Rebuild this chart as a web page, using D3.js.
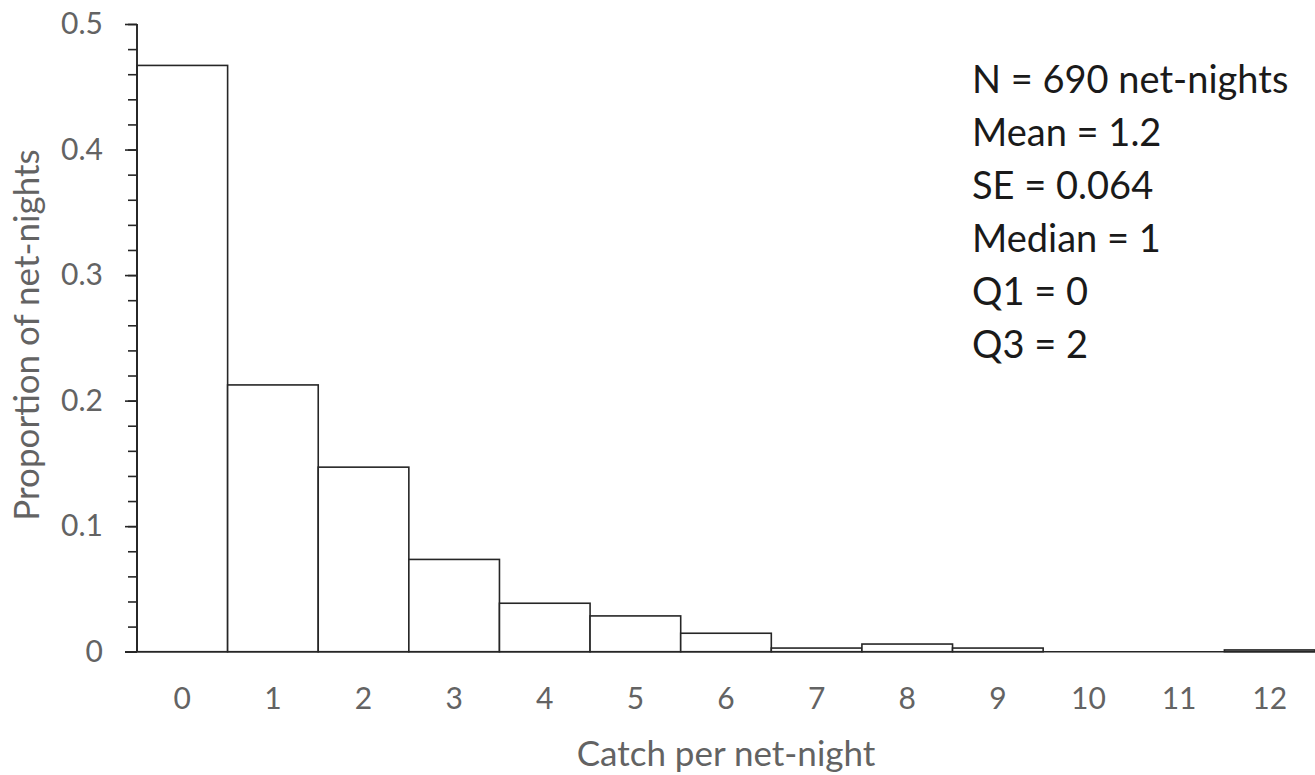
<!DOCTYPE html>
<html>
<head>
<meta charset="utf-8">
<script src="https://cdn.jsdelivr.net/npm/d3@7"></script>
<style>
  html, body { margin: 0; padding: 0; background: #fff; }
  svg { display: block; font-family: Lato, "Liberation Sans", sans-serif; }
</style>
</head>
<body>
<div id="chart"></div>
<script>
// catch per net-night (categories) and proportion of net-nights
const catches = ["0", "1", "2", "3", "4", "5", "6", "7", "8", "9", "10", "11", "12"];
const proportions = [0.467, 0.2125, 0.147, 0.0735, 0.0386, 0.0285, 0.0147, 0.0029, 0.0061, 0.0029, 0, 0, 0.0014];
const yTicks = [0, 0.1, 0.2, 0.3, 0.4, 0.5];
const statLines = ["N = 690 net-nights", "Mean = 1.2", "SE = 0.064", "Median = 1", "Q1 = 0", "Q3 = 2"];

const W = 1315, H = 775;
const margin = { top: 24, right: 0, bottom: 123.3, left: 137 };
const width = W - margin.left - margin.right;
const height = H - margin.top - margin.bottom;

const svg = d3.select('#chart')
    .append('svg')
    .attr('width', W)
    .attr('height', H);

const g = svg.append('g')
    .attr('transform', `translate(${margin.left}, ${margin.top})`);

const x = d3.scaleBand()
    .domain(catches)
    .range([0, width])
    .padding(0);

const y = d3.scaleLinear()
    .domain([0, 0.5])
    .range([height, 0]);

// bars
g.selectAll('.bar')
    .data(catches)
    .enter()
    .append('rect')
    .attr('class', 'bar')
    .attr('x', d => x(d))
    .attr('y', (d, i) => y(proportions[i]))
    .attr('width', x.bandwidth())
    .attr('height', (d, i) => height - y(proportions[i]))
    .style('fill', '#fff')
    .style('stroke', '#262626')
    .style('stroke-width', 1.6);

// minor ticks on y axis
const minorAxis = d3.axisLeft(y)
    .tickValues(d3.range(0, 0.5001, 0.02))
    .tickSize(9)
    .tickFormat('');
g.append('g').attr('class', 'axis minor').call(minorAxis);

// major ticks + labels on y axis
const yAxis = d3.axisLeft(y)
    .tickValues(yTicks)
    .tickSize(12)
    .tickPadding(22)
    .tickFormat(d => d === 0 ? '0' : d3.format('.1f')(d));
g.append('g').attr('class', 'axis major').call(yAxis);

// x axis (labels only, no ticks)
const xAxis = d3.axisBottom(x).tickSize(0).tickPadding(48);
g.append('g').attr('class', 'axis x')
    .attr('transform', `translate(0,${height})`)
    .call(xAxis);

g.select('.axis.x .domain').remove();
g.append('line')
    .attr('x1', -12).attr('x2', width)
    .attr('y1', height).attr('y2', height)
    .style('stroke', '#262626')
    .style('stroke-width', 1.6);

d3.selectAll('.axis path, .axis line')
    .style('stroke', '#262626')
    .style('stroke-width', 1.6);
d3.selectAll('.axis .domain').attr('d', `M0,${height}V0`);
d3.selectAll('.axis text')
    .style('font-size', '30px')
    .style('fill', '#636363')
    .style('font-family', 'Lato, sans-serif');
g.select('.axis.x').selectAll('text').attr('dy', '0.3em');

// axis titles
svg.append('text')
    .attr('x', 726)
    .attr('y', 766)
    .attr('text-anchor', 'middle')
    .style('font-size', '35px')
    .style('fill', '#636363')
    .text('Catch per net-night');

svg.append('text')
    .attr('transform', 'translate(39, 335) rotate(-90)')
    .attr('text-anchor', 'middle')
    .style('font-size', '35px')
    .style('fill', '#636363')
    .text('Proportion of net-nights');

// summary statistics
svg.append('g')
    .selectAll('text')
    .data(statLines)
    .enter()
    .append('text')
    .attr('x', 972)
    .attr('y', (d, i) => 93 + i * 53)
    .style('font-size', '38px')
    .style('fill', '#1a1a1a')
    .text(d => d);
</script>
</body>
</html>
